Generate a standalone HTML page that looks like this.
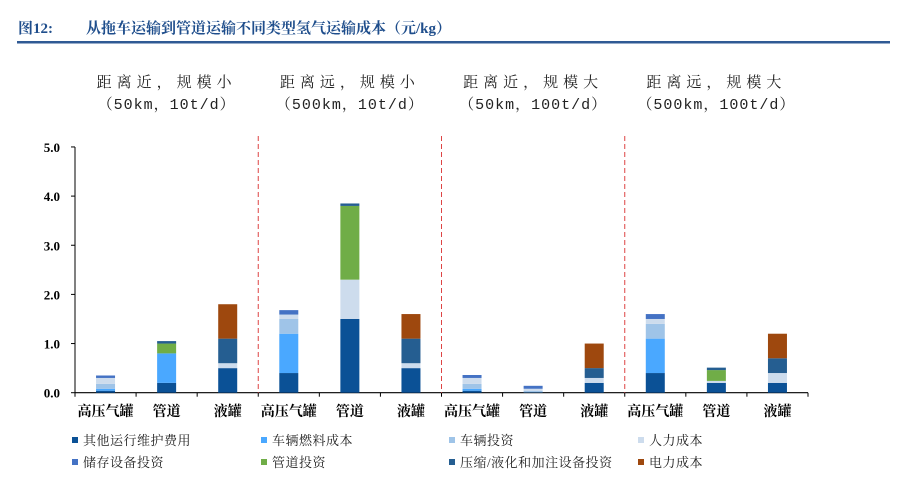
<!DOCTYPE html>
<html><head><meta charset="utf-8"><style>
body{margin:0;background:#fff;width:897px;height:479px;overflow:hidden;font-family:"Liberation Serif","Noto Serif CJK SC",serif;}
svg text{font-family:"Liberation Serif","Noto Serif CJK SC",serif;}
svg text.grp{font-family:"Liberation Mono","Noto Serif CJK SC",monospace;}
</style></head><body>
<svg id="c" width="897" height="479" xmlns="http://www.w3.org/2000/svg">
<text x="18" y="33" font-size="15" font-weight="bold" fill="#1f4e8c">图12:</text>
<text x="86" y="33" font-size="15" font-weight="bold" fill="#1f4e8c">从拖车运输到管道运输不同类型氢气运输成本（元/kg）</text>
<rect x="17" y="41" width="873" height="2.5" fill="#2f5a94"/>
<g id="plot"></g>
</svg>
<script>
const categories=["高压气罐","管道","液罐","高压气罐","管道","液罐","高压气罐","管道","液罐","高压气罐","管道","液罐"];
const groupLine1=["距离近，规模小","距离远，规模小","距离近，规模大","距离远，规模大"];
const groupLine2=["（50km，10t/d）","（500km，10t/d）","（50km，100t/d）","（500km，100t/d）"];
const seriesNames=["其他运行维护费用","车辆燃料成本","车辆投资","人力成本","储存设备投资","管道投资","压缩/液化和加注设备投资","电力成本"];
const seriesColors=["#0b5196","#4aa8ff","#9fc4e8","#cddced","#4472c4","#70ad47","#255e91","#9e480e"];
const s0=[0.04,0.2,0.5,0.4,1.5,0.5,0.04,0.01,0.2,0.4,0.2,0.2];
const s1=[0.04,0.6,0,0.8,0,0,0.04,0,0,0.7,0,0];
const s2=[0.1,0,0,0.3,0,0,0.1,0.03,0,0.3,0,0];
const s3=[0.12,0,0.1,0.09,0.8,0.1,0.12,0.04,0.1,0.1,0.04,0.2];
const s4=[0.05,0,0,0.09,0,0,0.06,0.06,0,0.1,0,0];
const s5=[0,0.2,0,0,1.5,0,0,0,0,0,0.22,0];
const s6=[0,0.05,0.5,0,0.05,0.5,0,0,0.2,0,0.05,0.3];
const s7=[0,0,0.7,0,0,0.5,0,0,0.5,0,0,0.5];
const series=[s0,s1,s2,s3,s4,s5,s6,s7];
const yTicks=[0,1,2,3,4,5];
const yTickLabels=["0.0","1.0","2.0","3.0","4.0","5.0"];

const NS="http://www.w3.org/2000/svg";
const g=document.getElementById("plot");
const X0=75,X1=808,Y0=392.7,YS=49.15;
const bw=(X1-X0)/categories.length;
const y=v=>Y0-v*YS;
const xc=i=>X0+bw*(i+0.5);
function mk(t,a,p){const e=document.createElementNS(NS,t);for(const k in a)e.setAttribute(k,a[k]);(p||g).appendChild(e);return e;}
let e=mk("line",{x1:X0,y1:y(5),x2:X0,y2:Y0,stroke:"#000","stroke-width":1});


yTicks.forEach((v,i)=>{
 let t=mk("line",{x1:X0-4,y1:y(v),x2:X0,y2:y(v),stroke:"#000"});
 
 
 let l=mk("text",{x:X0-15,y:y(v)+5,"font-size":13,"font-weight":"bold","text-anchor":"end"});
 l.textContent=yTickLabels[i];
 
 
});
e=mk("line",{x1:X0,y1:Y0,x2:X1,y2:Y0,stroke:"#000","stroke-width":1.2});


for(let i=0;i<=categories.length;i++){
 let t=mk("line",{x1:X0+bw*i,y1:Y0,x2:X0+bw*i,y2:Y0+4,stroke:"#000"});
 
 
}
categories.forEach((c,i)=>{
 let l=mk("text",{x:xc(i),y:416,"font-size":14,"font-weight":"bold","text-anchor":"middle"});
 l.textContent=c;
 
 
});
for(let k=1;k<4;k++){
 let d=mk("line",{x1:X0+bw*3*k,y1:136,x2:X0+bw*3*k,y2:Y0,stroke:"#d44","stroke-dasharray":"5,3","stroke-width":1});
 
 
}
groupLine1.forEach((s,k)=>{
 const cx=X0+bw*3*k+bw*1.5;
 let a=mk("text",{x:cx,y:87,"font-size":15,"text-anchor":"middle",fill:"#222","letter-spacing":5,"class":"grp"});
 a.textContent=s;
 
 
 let b=mk("text",{x:cx,y:109,"font-size":15,"text-anchor":"middle",fill:"#222","letter-spacing":1,"class":"grp"});
 b.textContent=groupLine2[k];
 
 
});
categories.forEach((c,i)=>{
 let base=0;
 series.forEach((s,j)=>{
  const v=s[i]; if(!v) return;
  let r=mk("rect",{x:xc(i)-9.5,y:y(base+v),width:19,height:v*YS,fill:seriesColors[j]});
  
  
  base+=v;
 });
});
const lx=[72,261,449,638];
seriesNames.forEach((n,j)=>{
 const px=lx[j%4],py=j<4?445:467;
 let r=mk("rect",{x:px,y:py-8,width:6,height:6,fill:seriesColors[j]});
 
 
 let t=mk("text",{x:px+11,y:py,"font-size":13,fill:"#222","letter-spacing":0.5});
 t.textContent=n;
 
 
});
</script>
</body></html>
